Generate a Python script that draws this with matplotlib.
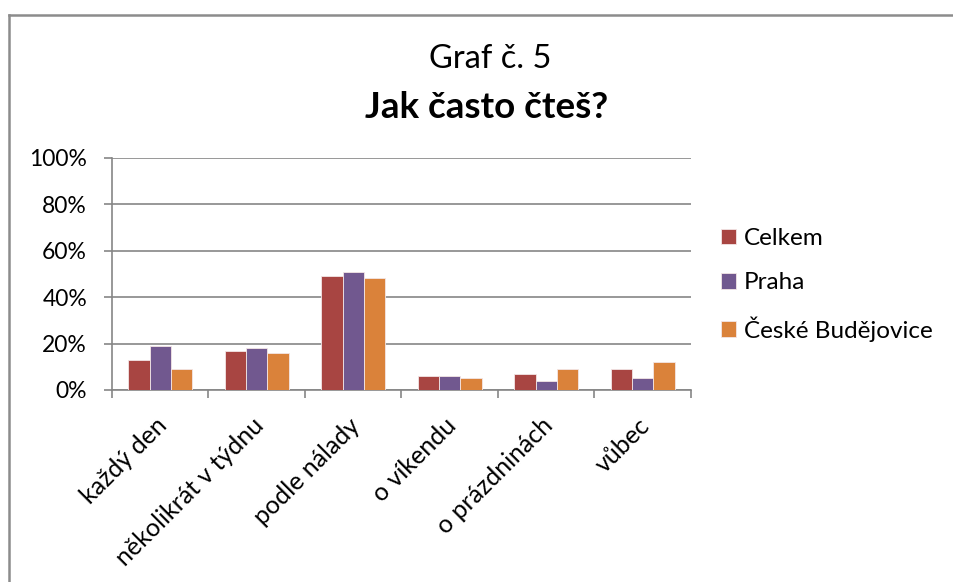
import numpy as np
import matplotlib
matplotlib.use('Agg')
import matplotlib.pyplot as plt
from matplotlib.lines import Line2D
from matplotlib.transforms import ScaledTranslation

categories = ['každý den', 'několikrát v týdnu', 'podle nálady', 'o víkendu',
              'o prázdninách', 'vůbec']
series_names = ['Celkem', 'Praha', 'České Budějovice']
celkem = [13, 17, 49, 6, 7, 9]
praha = [19, 18, 51, 6, 4, 5]
cb = [9, 16, 48, 5, 9, 12]
colors = ['#A84542', '#71588F', '#DA823A']

plt.rcParams['font.family'] = ['Lato', 'DejaVu Sans']
grey = '#868686'

fig = plt.figure(figsize=(9.54, 5.82), dpi=100)
ax = fig.add_axes([112 / 954, 1 - 390 / 582, (691 - 112) / 954, (390 - 157.7) / 582])

x = np.arange(len(categories))
w = 1 / 4.5
for i, (vals, name) in enumerate(zip([celkem, praha, cb], series_names)):
    ax.bar(x + (i - 1) * w, vals, width=w, color=colors[i], label=name,
           edgecolor='#f3e6e6', linewidth=0.6, zorder=3)

ax.set_xlim(-0.5, len(categories) - 0.5)
ax.set_ylim(0, 100)
ax.set_yticks(np.arange(0, 101, 20))
ax.set_yticklabels([f'{v}%' for v in range(0, 101, 20)], fontsize=16.5)
ax.yaxis.grid(True, color=grey, linewidth=1.2, zorder=0)

ax.set_xticks(np.arange(-0.5, len(categories), 1.0))
ax.set_xticklabels([])
ax.set_xticks(x, minor=True)
ax.set_xticklabels(categories, minor=True, rotation=45, ha='right',
                   rotation_mode='anchor', fontsize=18)
ax.tick_params(axis='x', which='minor', length=0, pad=10)
ax.tick_params(axis='x', which='major', length=6, width=1.2, color=grey)
ax.tick_params(axis='y', length=6, width=1.2, color=grey, pad=12)

# shift the rotated category labels a bit down-left, like Excel does
shift = ScaledTranslation(-5 / 100, -10 / 100, fig.dpi_scale_trans)
for lbl in ax.get_xticklabels(minor=True):
    lbl.set_transform(lbl.get_transform() + shift)

for s in ['top', 'right']:
    ax.spines[s].set_visible(False)
for s in ['left', 'bottom']:
    ax.spines[s].set_color(grey)
    ax.spines[s].set_linewidth(1.2)

fig.text(490 / 954, 1 - 59 / 582, 'Graf č. 5', ha='center', va='center', fontsize=23.5)
fig.text(487 / 954, 1 - 108 / 582, 'Jak často čteš?', ha='center', va='center',
         fontsize=26.5, fontweight='bold')

ax.legend(loc='center left', bbox_to_anchor=(709 / 954, 1 - 285 / 582),
          bbox_transform=fig.transFigure, frameon=False, fontsize=17.5,
          handlelength=0.62, handleheight=0.62, handletextpad=0.3,
          labelspacing=0.95, borderpad=0)

fig.add_artist(Line2D([9.5 / 954, 9.5 / 954], [0, 1 - 15 / 582],
                      transform=fig.transFigure, color='#8c8c8c', linewidth=1.8))
fig.add_artist(Line2D([9.5 / 954, 1], [1 - 15 / 582, 1 - 15 / 582],
                      transform=fig.transFigure, color='#8c8c8c', linewidth=1.8))

fig.savefig('out.png', dpi=100)
